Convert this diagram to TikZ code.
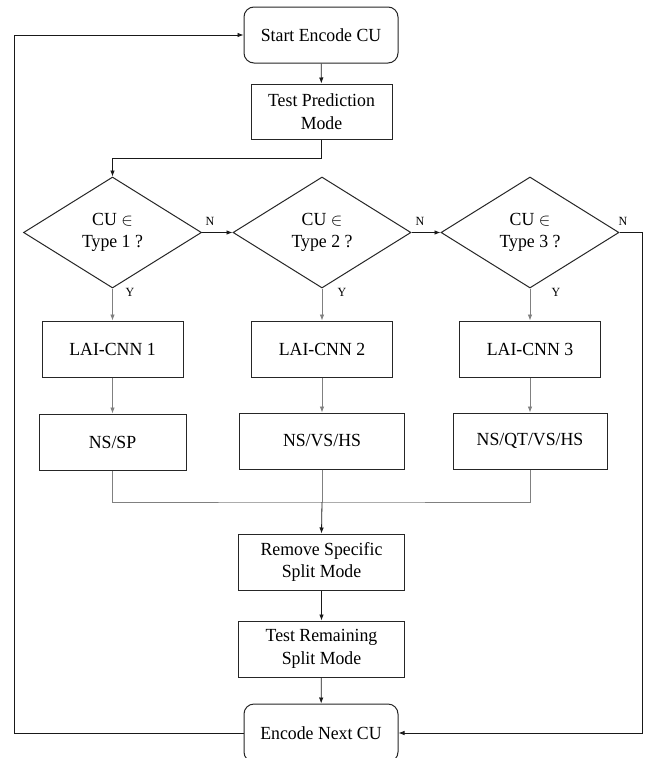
\documentclass[tikz,border=0pt]{standalone}
\usepackage{fontspec}
\setmainfont[FakeStretch=0.96]{Liberation Serif}
\usetikzlibrary{shapes.geometric,arrows.meta}
\tikzset{
  box/.style={draw=black!85,line width=1pt,rectangle,inner sep=2pt,align=center,
    font=\rmfamily\fontsize{18.5}{22.5}\selectfont},
  rbox/.style={box,rounded corners=10pt},
  dec/.style={draw=black!85,line width=1pt,diamond,inner sep=0pt,align=center,
    minimum width=178pt,minimum height=111pt,font=\rmfamily\fontsize{18.5}{22.5}\selectfont},
  lbl/.style={font=\rmfamily\fontsize{12.5}{14}\selectfont,inner sep=1pt},
  arr/.style={line width=0.8pt,draw=black!90,-{Latex[length=6pt,width=4.5pt]}},
  garr/.style={line width=0.8pt,draw=black!50,-{Latex[length=6pt,width=4.5pt]}},
  gline/.style={line width=0.8pt,draw=black!50},
  bline/.style={line width=0.8pt,draw=black!90}
}
\begin{document}
\begin{tikzpicture}[x=1pt,y=-1pt]
\useasboundingbox (0,0) rectangle (654,758);
\fill[white] (0,0) rectangle (654,758);

\node[rbox,minimum width=154pt,minimum height=56pt] (start) at (321,35) {Start Encode CU};
\node[box,minimum width=141pt,minimum height=55pt] (test) at (321.5,111.5) {Test Prediction\\Mode};

\node[dec] (d1) at (112.5,232.5) {CU $\in$\\Type 1 ?};
\node[dec] (d2) at (322,232.5) {CU $\in$\\Type 2 ?};
\node[dec] (d3) at (530,232.5) {CU $\in$\\Type 3 ?};

\node[box,minimum width=141pt,minimum height=56pt] (c1) at (112.5,349) {LAI-CNN 1};
\node[box,minimum width=141pt,minimum height=56pt] (c2) at (322,349) {LAI-CNN 2};
\node[box,minimum width=141pt,minimum height=56pt] (c3) at (530,349) {LAI-CNN 3};

\node[box,minimum width=147pt,minimum height=56pt] (n1) at (112.5,442) {NS/SP};
\node[box,minimum width=165pt,minimum height=56pt] (n2) at (322,441) {NS/VS/HS};
\node[box,minimum width=154pt,minimum height=56pt] (n3) at (530,441) {NS/QT/VS/HS};

\node[box,minimum width=166pt,minimum height=56pt] (rm) at (321.5,562) {Remove Specific\\Split Mode};
\node[box,minimum width=166pt,minimum height=56pt] (tr) at (321.5,649) {Test Remaining\\Split Mode};
\node[rbox,minimum width=154pt,minimum height=58pt] (nx) at (321,733) {Encode Next CU};

\coordinate (m) at (322,502);

% main flow
\draw[arr] (start) -- (test);
\draw[arr] (test.south) -- ++(0,19) -| (d1.north);
\draw[arr] (d1.east) -- (d2.west);
\draw[arr] (d2.east) -- (d3.west);
\draw[bline] (d3.east) -- ++(23,0) coordinate (rt);
\draw[arr] (rt) |- (nx.east);

\node[lbl] (N1) at (210,221) {N};
\node[lbl] (N2) at (420,221) {N};
\node[lbl] (N3) at (623,221) {N};
\node[lbl] (Y1) at (130,292) {Y};
\node[lbl] (Y2) at (342,292) {Y};
\node[lbl] (Y3) at (556,292) {Y};

\draw[garr] (d1.south) -- (c1.north);
\draw[garr] (d2.south) -- (c2.north);
\draw[garr] (d3.south) -- (c3.north);
\draw[garr] (c1.south) -- (n1.north);
\draw[garr] (c2.south) -- (n2.north);
\draw[garr] (c3.south) -- (n3.north);

\draw[gline] (n1.south) |- (m) -| (n3.south);
\draw[gline] (n2.south) -- (m);
\draw[arr] (m) -- (rm.north);
\draw[arr] (rm) -- (tr);
\draw[arr] (tr) -- (nx);

% loop back
\draw[arr] (nx.west) -- ++(-229,0) |- (start.west);
\end{tikzpicture}
\end{document}
